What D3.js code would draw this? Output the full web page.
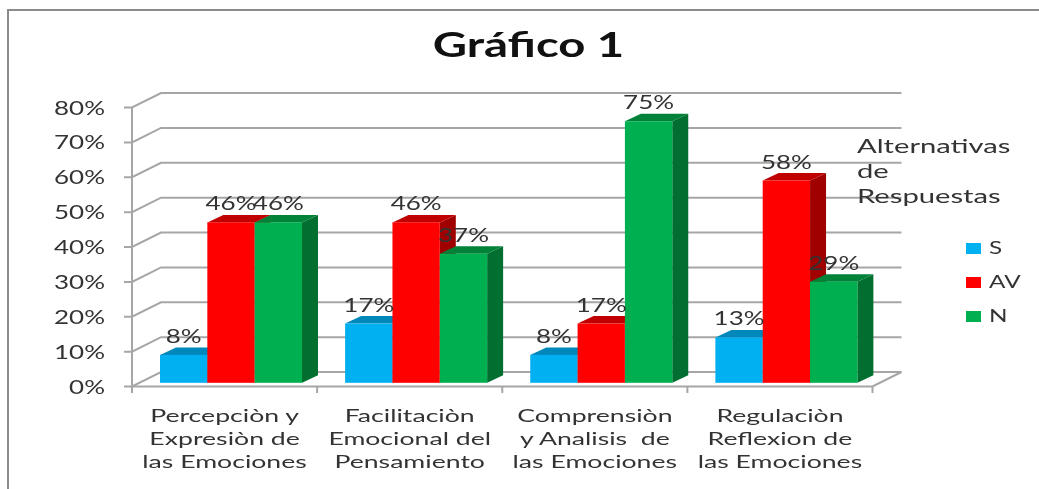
<!DOCTYPE html>
<html>
<head>
<meta charset="utf-8">
<script src="https://cdn.jsdelivr.net/npm/d3@7"></script>
<style>
html, body { margin: 0; padding: 0; background: #fff; }
svg { display: block; filter: blur(0.45px); }
text { font-family: Lato, "Open Sans", sans-serif; fill: #333; white-space: pre; }
</style>
</head>
<body>
<svg id="chart" width="1039" height="489"></svg>
<script>
const categories = [
    ['Percepciòn y', 'Expresiòn de', 'las Emociones'],
    ['Facilitaciòn', 'Emocional del', 'Pensamiento'],
    ['Comprensiòn', 'y Analisis  de', 'las Emociones'],
    ['Regulaciòn', 'Reflexion de', 'las Emociones']
];
const seriesNames = ['S', 'AV', 'N'];
const valuesS = [8, 17, 8, 13];
const valuesAV = [46, 46, 17, 58];
const valuesN = [46, 37, 75, 29];
const yTicks = [0, 10, 20, 30, 40, 50, 60, 70, 80];
const legendTitle = ['Alternativas', 'de', 'Respuestas'];

const colors = { S: '#00b0f0', AV: '#ff0000', N: '#00b050' };
const topColors = { S: '#0088bb', AV: '#c00000', N: '#008238' };
const sideColors = { S: '#0077a5', AV: '#a00000', N: '#006f30' };
const gridColor = '#a6a6a6';

const svg = d3.select('#chart');
const depthX = 29, depthY = 14.5;
const barDepthX = 16, barDepthY = 7.5;
const barLift = 3.7;

const x = d3.scaleBand().domain(d3.range(categories.length)).range([132, 872.5]);
const y = d3.scaleLinear().domain([0, 80]).range([386.5, 107.5]);
const inner = d3.scaleBand().domain(seriesNames).range([28, 170]);

// text is stretched sideways in the picture, so scale it around its own anchor
function wideText(sel, px, py, str, anchor, size, sx) {
    return sel.append('text')
        .attr('transform', `translate(${px},${py}) scale(${sx},1)`)
        .attr('text-anchor', anchor)
        .attr('font-size', size)
        .text(str);
}

// outer frame
svg.append('path')
    .attr('d', d3.line()([[8, 489], [8, 10], [1039, 10]]))
    .attr('fill', 'none')
    .attr('stroke', '#8c8c8c')
    .attr('stroke-width', 2);

wideText(svg, 528.5, 57, 'Gráfico 1', 'middle', 34, 1.39)
    .attr('font-weight', 700)
    .style('fill', '#111');

// walls and gridlines
const grid = svg.append('g').attr('fill', 'none').attr('stroke', gridColor).attr('stroke-width', 2);
yTicks.forEach(t => {
    grid.append('path').attr('d', d3.line()([
        [124, y(t)], [132, y(t)], [132 + depthX, y(t) - depthY], [x.range()[1] + depthX, y(t) - depthY]
    ]));
});
grid.append('path').attr('d', d3.line()([[132, y(80)], [132, 393]]));
grid.append('path').attr('d', d3.line()([[x.range()[0], y(0)], [x.range()[1], y(0)], [x.range()[1] + depthX, y(0) - depthY]]));
d3.range(1, categories.length + 1).forEach(i => {
    const tx = x.range()[0] + i * x.step();
    grid.append('line').attr('x1', tx).attr('x2', tx).attr('y1', y(0)).attr('y2', 393);
});

yTicks.forEach(t => {
    wideText(svg, 105, y(t) + 7, t + '%', 'end', 20, 1.3);
});

// bars, series by series so later ones cover the earlier sides
const series = [
    { name: 'S', values: valuesS },
    { name: 'AV', values: valuesAV },
    { name: 'N', values: valuesN }
];
const bars = svg.append('g');
categories.forEach((c, i) => {
    series.forEach(s => {
        const x0 = x(i) + inner(s.name);
        const x1 = x0 + inner.bandwidth();
        const yTop = y(s.values[i]) - barLift;
        const yBase = y(0) - barLift;
        bars.append('path')
            .attr('fill', sideColors[s.name])
            .attr('d', d3.line()([[x1, yTop], [x1 + barDepthX, yTop - barDepthY], [x1 + barDepthX, yBase - barDepthY], [x1, yBase]]) + 'Z');
        bars.append('path')
            .attr('fill', topColors[s.name])
            .attr('d', d3.line()([[x0, yTop], [x0 + barDepthX, yTop - barDepthY], [x1 + barDepthX, yTop - barDepthY], [x1, yTop]]) + 'Z');
        bars.append('rect')
            .attr('x', x0)
            .attr('y', yTop)
            .attr('width', x1 - x0)
            .attr('height', yBase - yTop)
            .attr('fill', colors[s.name]);
    });
});

// value labels go on last
categories.forEach((c, i) => {
    series.forEach(s => {
        const cx = x(i) + inner(s.name) + inner.bandwidth() / 2;
        wideText(svg, cx, y(s.values[i]) - barLift - 12, s.values[i] + '%', 'middle', 20, 1.3);
    });
});

// category labels
categories.forEach((lines, i) => {
    const cx = x(i) + x.bandwidth() / 2;
    lines.forEach((line, j) => {
        wideText(svg, cx, 422 + j * 23, line, 'middle', 18, 1.48);
    });
});

// legend
legendTitle.forEach((line, j) => {
    wideText(svg, 857, 153 + j * 25, line, 'start', 20, 1.46);
});
series.forEach((s, j) => {
    svg.append('rect').attr('x', 966).attr('y', 243 + j * 34).attr('width', 15).attr('height', 11).attr('fill', colors[s.name]);
    wideText(svg, 989, 254 + j * 34, s.name, 'start', 18, 1.35);
});
</script>
</body>
</html>
